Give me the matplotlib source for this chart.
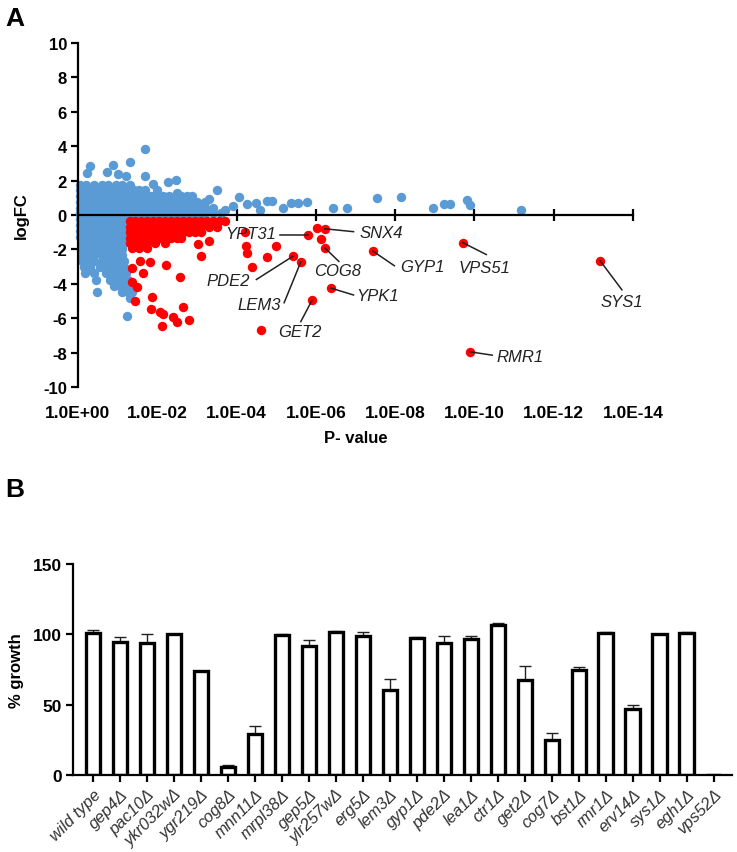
import matplotlib.pyplot as plt
import numpy as np

plt.rcParams['font.family'] = ['Liberation Sans', 'DejaVu Sans']
plt.rcParams['axes.unicode_minus'] = False

# ---- panel A data: x = -log10(P), y = logFC ----
blue_rows = [
    (1.75, [0.05, 0.2, 0.4, 0.6, 0.75, 0.95, 1.1, 1.3]),
    (1.45, [0.05, 0.2, 0.35, 0.5, 0.65, 0.8, 0.95, 1.1, 1.25, 1.4, 1.55, 1.7, 2.0]),
    (1.1, [0.05, 0.2, 0.35, 0.5, 0.65, 0.8, 0.95, 1.1, 1.25, 1.4, 1.55, 1.7, 1.85,
           2.0, 2.15, 2.3, 2.5, 2.75]),
    (0.75, [0.05, 0.2, 0.35, 0.5, 0.65, 0.8, 0.95, 1.1, 1.25, 1.4, 1.55, 1.7, 1.85,
            2.0, 2.15, 2.3, 2.45, 2.6, 2.8, 3.0, 3.2]),
    (0.4, [0.05, 0.2, 0.35, 0.5, 0.65, 0.8, 0.95, 1.1, 1.25, 1.4, 1.55, 1.7, 1.85,
           2.0, 2.15, 2.3, 2.45, 2.6, 2.75, 2.9, 3.05, 3.2, 3.4]),
    (0.1, [0.05, 0.2, 0.35, 0.5, 0.65, 0.8, 0.95, 1.1, 1.25, 1.4, 1.55, 1.7, 1.85,
           2.0, 2.15, 2.3, 2.45, 2.6, 2.75, 2.9, 3.05, 3.2, 3.4, 3.6]),
    (-0.25, [0.05, 0.2, 0.35, 0.5, 0.65, 0.8, 0.95, 1.1, 1.2]),
    (-0.6, [0.05, 0.2, 0.35, 0.5, 0.65, 0.8, 0.95, 1.1, 1.2]),
    (-0.95, [0.05, 0.2, 0.35, 0.5, 0.65, 0.8, 0.95, 1.1, 1.2]),
    (-1.3, [0.05, 0.2, 0.35, 0.5, 0.65, 0.8, 0.95, 1.1, 1.15]),
    (-1.65, [0.1, 0.25, 0.4, 0.55, 0.7, 0.85, 1.0, 1.15]),
    (-2.0, [0.1, 0.25, 0.4, 0.55, 0.7, 0.85, 1.0, 1.1]),
    (-2.35, [0.1, 0.25, 0.4, 0.6, 0.75, 0.95, 1.1]),
    (-2.7, [0.1, 0.25, 0.4, 0.6, 0.8, 1.0, 1.15]),
    (-3.05, [0.15, 0.3, 0.55, 0.75, 0.95, 1.15]),
    (-3.4, [0.18, 0.4, 0.7, 0.85, 1.05, 1.2]),
    (-3.75, [0.45, 0.8, 0.95, 1.1, 1.25]),
    (-4.1, [0.9, 1.05, 1.2, 1.3]),
    (-4.45, [1.1, 1.25, 1.35]),
    (-4.8, [1.3]),
]
blue_extra_x = [0.3, 0.23, 0.88, 0.73, 1.0, 1.3, 1.7, 1.7, 1.2, 1.9, 2.27, 2.47, 3.5,
                2.6, 2.87, 3.3, 4.06, 4.26, 4.5, 4.77, 4.9, 5.17, 5.37, 5.55, 5.78,
                6.43, 6.78, 7.54, 8.15, 8.95, 9.23, 9.38, 9.8, 9.9, 11.17, 0.48, 1.24,
                3.7, 3.9, 4.6, 2.5, 2.9]
blue_extra_y = [2.85, 2.45, 2.9, 2.5, 2.4, 3.1, 3.84, 2.25, 2.25, 1.8, 1.9, 2.05, 1.45,
                1.1, 1.1, 0.95, 1.05, 0.65, 0.7, 0.8, 0.8, 0.4, 0.7, 0.7, 0.75,
                0.4, 0.4, 1.0, 1.05, 0.4, 0.65, 0.65, 0.85, 0.6, 0.3, -4.5, -5.9,
                0.3, 0.55, 0.3, 1.3, 0.6]

red_rows = [
    (-0.35, [1.3, 1.45, 1.6, 1.75, 1.9, 2.05, 2.2, 2.35, 2.5, 2.65, 2.8, 2.95, 3.1,
             3.25, 3.4, 3.55, 3.7]),
    (-0.7, [1.3, 1.45, 1.6, 1.75, 1.9, 2.05, 2.2, 2.35, 2.5, 2.65, 2.8, 2.95, 3.1,
            3.3, 3.5]),
    (-1.0, [1.3, 1.45, 1.6, 1.75, 1.9, 2.05, 2.2, 2.35, 2.5, 2.65, 2.8, 2.95, 3.1]),
    (-1.35, [1.3, 1.45, 1.6, 1.75, 1.9, 2.05, 2.2, 2.35, 2.5, 2.6]),
    (-1.65, [1.3, 1.45, 1.6, 1.75, 1.95, 2.2]),
    (-1.9, [1.35, 1.55, 1.75]),
]
red_extra_x = [1.36, 1.56, 1.82, 1.64, 1.36, 1.49, 1.44, 1.87, 1.84, 2.07, 2.14, 2.12,
               2.4, 2.5, 2.65, 2.8, 2.57, 2.22, 3.1, 3.03, 3.3, 4.2, 4.24, 4.26, 4.4,
               4.76, 5.0, 5.42, 5.62, 5.9, 4.62, 5.8, 6.03, 6.22, 6.13, 6.23, 6.38,
               7.44, 9.7, 13.17, 9.88]
red_extra_y = [-3.1, -2.65, -2.75, -3.4, -3.9, -4.2, -5.0, -4.77, -5.47, -5.65, -5.76,
               -6.45, -5.93, -6.22, -5.35, -6.1, -3.6, -2.9, -2.4, -1.7, -1.5, -1.0,
               -1.8, -2.2, -3.0, -2.45, -1.8, -2.4, -2.73, -4.97, -6.7, -1.17, -0.75,
               -0.8, -1.4, -1.92, -4.25, -2.1, -1.6, -2.66, -7.95]

# gene labels: name, point, text position, leader line end, alignment
genes = ['YPT31', 'SNX4', 'COG8', 'PDE2', 'LEM3', 'GET2', 'YPK1', 'GYP1', 'VPS51',
         'SYS1', 'RMR1']
gene_pts = [(5.8, -1.17), (6.22, -0.8), (6.23, -1.92), (5.42, -2.4), (5.62, -2.73),
            (5.9, -4.97), (6.38, -4.25), (7.44, -2.1), (9.7, -1.6), (13.17, -2.66),
            (9.88, -7.95)]
gene_txt = [(5.0, -1.1), (7.1, -1.0), (5.95, -3.25), (4.35, -3.8), (5.12, -5.2),
            (5.6, -6.75), (7.03, -4.68), (8.13, -3.0), (9.6, -3.05), (13.72, -5.05),
            (10.55, -8.2)]
gene_line = [(5.1, -1.17), (6.95, -0.97), (6.58, -2.7), (4.5, -3.75), (5.2, -5.1),
             (5.62, -6.2), (6.95, -4.65), (7.98, -2.95), (10.3, -2.3), (13.72, -4.35),
             (10.45, -8.15)]
gene_ha = ['right', 'left', 'left', 'right', 'right', 'center', 'left', 'left', 'left',
           'center', 'left']

xticks_a = [0, 2, 4, 6, 8, 10, 12, 14]
xlabels_a = ['1.0E+00', '1.0E-02', '1.0E-04', '1.0E-06', '1.0E-08', '1.0E-10',
             '1.0E-12', '1.0E-14']

# ---- panel B data ----
strains = ['wild type', 'gep4Δ', 'pac10Δ', 'ykr032wΔ', 'ygr219Δ', 'cog8Δ', 'mnn11Δ',
           'mrpl38Δ', 'gep5Δ', 'ylr257wΔ', 'erg5Δ', 'lem3Δ', 'gyp1Δ', 'pde2Δ',
           'lea1Δ', 'ctr1Δ', 'get2Δ', 'cog7Δ', 'bst1Δ', 'rmr1Δ', 'erv14Δ', 'sys1Δ',
           'egh1Δ', 'vps52Δ']
growth = [101, 94.4, 94, 100, 73.7, 5.4, 29, 99.7, 91.5, 102, 98.6, 60.7, 97.4, 93.9,
          96.7, 106.7, 67.6, 24.9, 74.7, 101.2, 46.7, 100.5, 100.7, 0]
growth_err = [2, 4, 6, 0.5, 0.5, 2, 5.5, 0.5, 4.7, 0.5, 2.8, 7.5, 0.5, 5, 2.4, 1.4,
              9.7, 5, 1.9, 0.5, 3.3, 0, 1, 0]

blue = '#5b9bd5'
red = '#ff0000'

fig = plt.figure(figsize=(7.37, 8.53), dpi=100)

# ---------------- panel A ----------------
ax = fig.add_axes([78 / 737, 1 - 388 / 853, 555 / 737, 344 / 853])
bx = [x for y, xs in blue_rows for x in xs] + blue_extra_x
by = [y for y, xs in blue_rows for x in xs] + blue_extra_y
rx = [x for y, xs in red_rows for x in xs] + red_extra_x
ry = [y for y, xs in red_rows for x in xs] + red_extra_y
ax.scatter(bx, by, s=46, color=blue, linewidths=0, clip_on=False, zorder=2)
ax.scatter(rx, ry, s=46, color=red, linewidths=0, clip_on=False, zorder=3)

for name, p, t, l, ha in zip(genes, gene_pts, gene_txt, gene_line, gene_ha):
    ax.plot([p[0], l[0]], [p[1], l[1]], color='#222222', lw=1.1, zorder=4)
    ax.text(t[0], t[1], name, ha=ha, va='center', fontsize=12, style='italic',
            color='#222222', zorder=5)

ax.set_xlim(0, 14)
ax.set_ylim(-10, 10)
ax.spines['top'].set_visible(False)
ax.spines['right'].set_visible(False)
ax.spines['bottom'].set_position(('data', 0))
for s in ('left', 'bottom'):
    ax.spines[s].set_linewidth(1.6)
ax.set_xticks(xticks_a)
ax.tick_params(axis='x', direction='inout', length=9, width=1.6, labelbottom=False)
ax.set_yticks(range(-10, 11, 2))
ax.tick_params(axis='y', direction='out', length=5, width=1.6, pad=3)
for lab in ax.get_yticklabels():
    lab.set_fontweight('bold')
    lab.set_fontsize(12)
ax.set_ylabel('logFC', fontsize=12, fontweight='bold', labelpad=10)

sec = ax.secondary_xaxis('bottom')
sec.set_xticks(xticks_a, xlabels_a)
sec.spines['bottom'].set_visible(False)
sec.tick_params(length=0, pad=13)
for lab in sec.get_xticklabels():
    lab.set_fontweight('bold')
    lab.set_fontsize(12.5)
sec.set_xlabel('P- value', fontsize=12, fontweight='bold', labelpad=7)

# ---------------- panel B ----------------
ax2 = fig.add_axes([73 / 737, 1 - 776 / 853, 659 / 737, 211 / 853])
pos = np.arange(len(strains))
ax2.errorbar(pos, growth, yerr=[np.zeros(len(growth)), growth_err], fmt='none',
             ecolor='#222222', elinewidth=1, capsize=4, capthick=1, zorder=1)
ax2.bar(pos, growth, width=0.55, color='white', edgecolor='black', linewidth=2.4,
        zorder=2)
ax2.set_xlim(-0.74, 23.67)
ax2.set_ylim(0, 150)
ax2.spines['top'].set_visible(False)
ax2.spines['right'].set_visible(False)
for s in ('left', 'bottom'):
    ax2.spines[s].set_linewidth(1.6)
ax2.set_yticks([0, 50, 100, 150])
ax2.tick_params(axis='y', length=5, width=1.6, pad=3)
for lab in ax2.get_yticklabels():
    lab.set_fontweight('bold')
    lab.set_fontsize(12.5)
ax2.set_xticks(pos)
ax2.set_xticklabels(strains, rotation=45, ha='right', rotation_mode='anchor',
                    fontsize=12, style='italic', color='#333333')
ax2.tick_params(axis='x', length=5, width=1.6, pad=3)
ax2.set_ylabel('% growth', fontsize=12, fontweight='bold', labelpad=6)

fig.text(0.007, 0.992, 'A', fontsize=19, fontweight='bold', va='top')
fig.text(0.007, 0.44, 'B', fontsize=19, fontweight='bold', va='top')

fig.savefig('out.png', dpi=100)
